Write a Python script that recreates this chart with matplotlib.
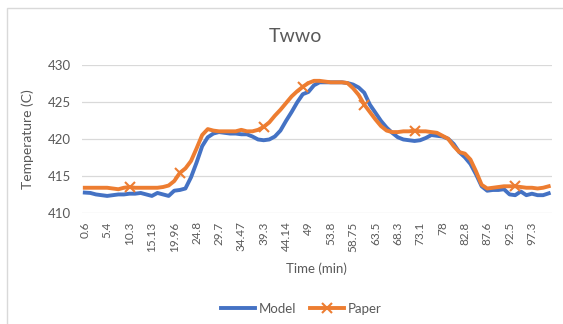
"""Twwo: model vs paper temperature over time (Excel-style line chart)."""

import numpy as np
import matplotlib
matplotlib.use("Agg")
import matplotlib.pyplot as plt
from matplotlib.patches import Rectangle

# category tick labels (every 4th sample is labelled)
tick_labels = ["0.6", "5.4", "10.3", "15.13", "19.96", "24.8", "29.7", "34.47",
               "39.3", "44.14", "49", "53.8", "58.75", "63.5", "68.3", "73.1",
               "78", "82.8", "87.6", "92.5", "97.3"]

model = [412.75, 412.7, 412.5, 412.4, 412.3, 412.4, 412.5, 412.5, 412.6, 412.6,
         412.7, 412.5, 412.3, 412.7, 412.5, 412.3, 413.0, 413.1, 413.3, 414.8,
         416.8, 419.0, 420.2, 420.7, 420.9, 420.8, 420.7, 420.7, 420.6, 420.6,
         420.3, 419.9, 419.8, 419.9, 420.3, 421.1, 422.4, 423.6, 424.9, 426.0,
         426.3, 427.2, 427.6, 427.6, 427.6, 427.6, 427.6, 427.5, 427.3, 426.9,
         426.2, 424.6, 423.5, 422.4, 421.5, 420.8, 420.2, 419.9, 419.8, 419.7,
         419.8, 420.1, 420.5, 420.4, 420.3, 420.0, 419.3, 418.2, 417.5, 416.6,
         415.2, 413.6, 413.0, 413.1, 413.1, 413.2, 412.5, 412.4, 412.9, 412.4,
         412.6, 412.4, 412.4, 412.65]

paper = [413.4, 413.4, 413.4, 413.4, 413.4, 413.3, 413.2, 413.4, 413.5, 413.4,
         413.4, 413.4, 413.4, 413.4, 413.5, 413.7, 414.3, 415.4, 416.0, 417.0,
         418.7, 420.5, 421.3, 421.1, 421.0, 421.0, 421.0, 421.0, 421.2, 421.0,
         421.0, 421.2, 421.6, 422.2, 423.1, 423.9, 424.8, 425.7, 426.4, 427.0,
         427.5, 427.8, 427.8, 427.7, 427.6, 427.6, 427.6, 427.5, 426.8, 425.9,
         424.6, 423.6, 422.6, 421.7, 421.1, 420.9, 420.9, 421.0, 421.0, 421.1,
         421.0, 421.0, 420.9, 420.8, 420.4, 420.0, 419.0, 418.2, 418.0, 417.2,
         415.6, 413.8, 413.3, 413.4, 413.5, 413.6, 413.6, 413.6, 413.5, 413.4,
         413.4, 413.3, 413.4, 413.6]

# samples where the paper series shows a marker
paper_markers = [8, 17, 32, 39, 50, 59, 77]

BLUE = "#4472C4"
ORANGE = "#ED7D31"
GRAY = "#595959"
FONT = ["Lato", "DejaVu Sans"]

plt.rcParams["font.family"] = FONT

fig = plt.figure(figsize=(5.63, 3.24), dpi=100)
W, H = 563, 324
ax = fig.add_axes([82 / W, 1 - 213 / H, (551.5 - 82) / W, (213 - 64.5) / H])

x = np.arange(len(model))
ax.plot(x, model, color=BLUE, lw=2.8, solid_joinstyle="round", label="Model", zorder=3)
ax.plot(x, paper, color=ORANGE, lw=2.8, solid_joinstyle="round", zorder=4,
        marker="x", markevery=paper_markers, ms=7, mew=1.5, label="Paper")

ax.set_xlim(-0.5, len(model) - 0.5)
ax.set_ylim(410, 430)
ax.set_yticks([410, 415, 420, 425, 430])
ax.set_xticks(x[::4])
ax.set_xticklabels(tick_labels, rotation=90)
ax.tick_params(length=0, labelsize=8.5, colors=GRAY, pad=6)
ax.tick_params(axis="y", labelsize=9.5, pad=8)
ax.grid(axis="y", color="#D9D9D9", lw=0.9)
ax.set_axisbelow(True)
for s in ax.spines.values():
    s.set_visible(False)

ax.set_xlabel("Time (min)", fontsize=9.5, color=GRAY, labelpad=8)
ax.set_ylabel("Temperature (C)", fontsize=10, color=GRAY, labelpad=10)
fig.text(0.524, 1 - 36 / H, "Twwo", ha="center", va="center", fontsize=14, color=GRAY)

fig.legend(loc="center", bbox_to_anchor=(0.535, 1 - 309 / H), ncol=2, frameon=False,
           fontsize=9.5, labelcolor=GRAY, handlelength=2.6, columnspacing=1.0,
           handletextpad=0.3)

# light chart border like the Excel chart area
fig.patches.append(Rectangle((7 / W, -0.05), 1.0, 1 - 8 / H + 0.05,
                             transform=fig.transFigure, fill=False,
                             edgecolor="#D9D9D9", lw=1.0))

fig.savefig("out.png", dpi=100)
